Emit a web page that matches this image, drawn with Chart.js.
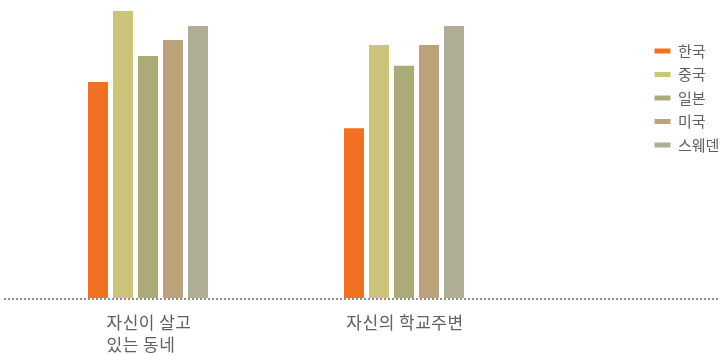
<!DOCTYPE html>
<html lang="ko">
<head>
<meta charset="utf-8">
<title>지역별 응답 비교</title>
<script src="https://cdn.jsdelivr.net/npm/chart.js@4/dist/chart.umd.min.js"></script>
<style>
  html, body { margin: 0; padding: 0; background: #fff; }
  #wrap { width: 721px; height: 355px; }
</style>
</head>
<body>
<div id="wrap"><canvas id="chart"></canvas></div>
<script>
// Categories (multi-line labels) and one value list per country
const categories = [['자신이 살고', '있는 동네'], ['자신의 학교주변']];
const seriesNames = ['한국', '중국', '일본', '미국', '스웨덴'];
const korea  = [72.5, 57.0];
const china  = [96.3, 84.9];
const japan  = [81.2, 77.9];
const usa    = [86.6, 84.9];
const sweden = [91.3, 91.3];
const colors = ['#F27022', '#CDC47C', '#ABAB79', '#BBA27A', '#AFAD93'];

const seriesValues = [korea, china, japan, usa, sweden];
const fontFamily = '"Noto Sans CJK KR", "Noto Sans", sans-serif';

// Dotted baseline across the full width at the value 0
const baselinePlugin = {
  id: 'baseline',
  beforeDatasetsDraw(chart) {
    const y = chart.scales.y.getPixelForValue(0) + 1;
    const ctx = chart.ctx;
    ctx.save();
    ctx.strokeStyle = '#8c8c8c';
    ctx.lineWidth = 2;
    ctx.setLineDash([2, 2]);
    ctx.beginPath();
    ctx.moveTo(4, y);
    ctx.lineTo(719, y);
    ctx.stroke();
    ctx.restore();
  }
};

// Category labels: lines left-aligned inside a block centred under each group
const categoryLabelPlugin = {
  id: 'categoryLabels',
  afterDraw(chart) {
    const xs = chart.scales.x;
    const ctx = chart.ctx;
    ctx.save();
    ctx.font = '17px ' + fontFamily;
    ctx.letterSpacing = '0.5px';
    ctx.fillStyle = '#606060';
    ctx.textAlign = 'left';
    ctx.textBaseline = 'middle';
    const lineHeight = 22;
    const firstLine = xs.bottom - xs.height + 25;
    chart.data.labels.forEach((label, i) => {
      const lines = Array.isArray(label) ? label : [label];
      const blockWidth = Math.max(...lines.map(l => ctx.measureText(l).width));
      const left = xs.getPixelForTick(i) - blockWidth / 2 + 1;
      lines.forEach((line, j) => {
        ctx.fillText(line, left, firstLine + j * lineHeight);
      });
    });
    ctx.restore();
  }
};

new Chart(document.getElementById('chart'), {
  type: 'bar',
  data: {
    labels: categories,
    datasets: seriesNames.map((name, i) => ({
      label: name,
      data: seriesValues[i],
      backgroundColor: colors[i],
      borderWidth: 0,
      categoryPercentage: 125 / 256,
      barPercentage: 0.8
    }))
  },
  options: {
    responsive: true,
    maintainAspectRatio: false,
    animation: false,
    layout: { padding: { left: 20, right: 0, top: 0, bottom: 0 } },
    plugins: {
      tooltip: { enabled: false },
      legend: {
        position: 'right',
        align: 'start',
        maxWidth: 75,
        title: { display: true, text: '', font: { size: 10 }, padding: { top: 23, bottom: 0 } },
        labels: {
          boxWidth: 16,
          boxHeight: 5,
          padding: 8.5,
          color: '#606060',
          font: { family: fontFamily, size: 15 }
        }
      }
    },
    scales: {
      x: {
        grid: { display: false },
        border: { display: false },
        ticks: { display: false },
        afterFit(scale) { scale.height = 57; }
      },
      y: {
        position: 'right',
        min: 0,
        max: 100,
        grid: { display: false },
        border: { display: false },
        ticks: { display: false },
        afterFit(scale) { scale.width = 114; }
      }
    }
  },
  plugins: [baselinePlugin, categoryLabelPlugin]
});
</script>
</body>
</html>
